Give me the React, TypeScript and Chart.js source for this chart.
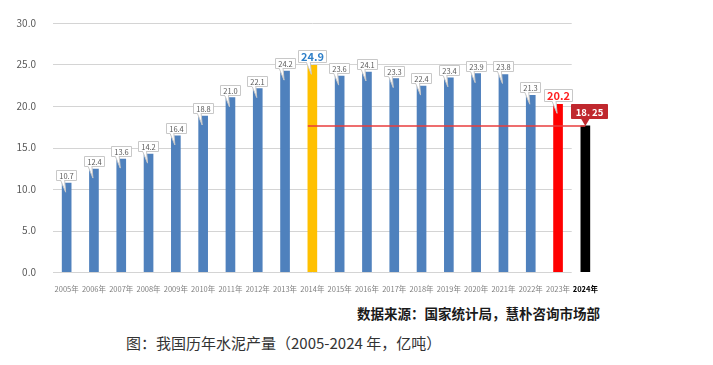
import React, { useEffect, useRef } from "react";
import { Chart, registerables } from "chart.js";

Chart.register(...registerables);

const years = ["2005年","2006年","2007年","2008年","2009年","2010年","2011年","2012年","2013年","2014年","2015年","2016年","2017年","2018年","2019年","2020年","2021年","2022年","2023年","2024年"];
const production = [10.7,12.4,13.6,14.2,16.4,18.8,21.0,22.1,24.2,24.9,23.6,24.1,23.3,22.4,23.4,23.9,23.8,21.3,20.2,17.6];
const labelTexts = ["10.7","12.4","13.6","14.2","16.4","18.8","21.0","22.1","24.2","24.9","23.6","24.1","23.3","22.4","23.4","23.9","23.8","21.3","20.2","18. 25"];
const barColors = ["#4f81bd","#4f81bd","#4f81bd","#4f81bd","#4f81bd","#4f81bd","#4f81bd","#4f81bd","#4f81bd","#ffc000","#4f81bd","#4f81bd","#4f81bd","#4f81bd","#4f81bd","#4f81bd","#4f81bd","#4f81bd","#ff0000","#000000"];
const yTicks = [0, 5, 10, 15, 20, 25, 30];
const sourceText = "数据来源：国家统计局，慧朴咨询市场部";
const titleText = "图：我国历年水泥产量（2005-2024 年，亿吨）";

const FONT = "'Noto Sans CJK SC', 'Noto Sans', sans-serif";

const gridPlugin = {
  id: "customGrid",
  beforeDatasetsDraw(chart: any) {
    const { ctx, chartArea, scales } = chart;
    const x = scales.x;
    const y = scales.y;
    const right = (x.getPixelForValue(18) + x.getPixelForValue(19)) / 2;
    ctx.save();
    ctx.strokeStyle = "#d4d4d4";
    ctx.lineWidth = 1;
    yTicks.forEach((t) => {
      const py = Math.round(y.getPixelForValue(t)) + 0.5;
      ctx.beginPath();
      ctx.moveTo(chartArea.left, py);
      ctx.lineTo(right, py);
      ctx.stroke();
    });
    ctx.restore();
  },
};

const labelPlugin = {
  id: "callouts",
  afterDatasetsDraw(chart: any) {
    const { ctx, scales } = chart;
    const x = scales.x;
    const y = scales.y;
    const meta = chart.getDatasetMeta(0);
    ctx.save();
    const lineY = y.getPixelForValue(production[19]);
    ctx.strokeStyle = "rgba(232,60,60,0.75)";
    ctx.lineWidth = 2;
    ctx.beginPath();
    ctx.moveTo(x.getPixelForValue(9) - 4.5, lineY);
    ctx.lineTo(x.getPixelForValue(19), lineY);
    ctx.stroke();

    meta.data.forEach((bar: any, i: number) => {
      const cx = bar.x;
      const top = bar.y;
      const txt = labelTexts[i];
      let font = `7.5px ${FONT}`;
      let color = "#595959";
      let fill = "#ffffff";
      let stroke = "#c8c8c8";
      let padX = 2.5;
      let h = 10;
      let shift = 0;
      if (i === 9) { font = `bold 11px ${FONT}`; color = "#2e7fc8"; h = 12; padX = 2.5; }
      if (i === 18) { font = `bold 11px ${FONT}`; color = "#ff2020"; h = 12; padX = 2.5; }
      if (i === 19) { font = `bold 9.5px ${FONT}`; color = "#ffffff"; fill = "#c0282e"; stroke = "#c0282e"; h = 14; padX = 4; shift = 4; }
      ctx.font = font;
      const tw = ctx.measureText(txt).width;
      const w = tw + padX * 2;
      const gap = i === 19 ? 8 : 3;
      const by = top - gap - h;
      const bx = cx - w / 2 - 0.5 + shift;
      ctx.fillStyle = fill;
      ctx.strokeStyle = stroke;
      ctx.lineWidth = 1;
      if (i === 19) {
        ctx.beginPath();
        ctx.moveTo(cx - 5, by + h - 0.5);
        ctx.lineTo(cx + 5, by + h - 0.5);
        ctx.lineTo(cx, top);
        ctx.closePath();
        ctx.fill();
      } else {
        ctx.beginPath();
        ctx.moveTo(cx - 6, by + h);
        ctx.lineTo(cx - 1, top + 9);
        ctx.lineTo(cx - 2, by + h);
        ctx.closePath();
        ctx.fill();
        ctx.beginPath();
        ctx.moveTo(cx - 6, by + h);
        ctx.lineTo(cx - 1, top + 9);
        ctx.lineTo(cx - 2, by + h);
        ctx.stroke();
      }
      ctx.beginPath();
      ctx.rect(Math.round(bx) + 0.5, Math.round(by) + 0.5, Math.round(w), Math.round(h));
      ctx.fill();
      ctx.stroke();
      if (i !== 19) {
        ctx.fillStyle = fill;
        ctx.fillRect(cx - 5.5, Math.round(by) + Math.round(h) - 0.5, 3, 1.5);
      }
      ctx.fillStyle = color;
      ctx.textAlign = "center";
      ctx.textBaseline = "middle";
      ctx.fillText(txt, Math.round(bx) + Math.round(w) / 2 + 0.5, Math.round(by) + Math.round(h) / 2 + 1);
    });
    ctx.restore();
  },
};

export default function App() {
  const ref = useRef<HTMLCanvasElement | null>(null);
  useEffect(() => {
    if (!ref.current) return;
    const chart = new Chart(ref.current, {
      type: "bar",
      data: {
        labels: years,
        datasets: [
          {
            data: production,
            backgroundColor: barColors,
            barThickness: 9,
            borderWidth: 0,
          },
        ],
      },
      options: {
        animation: false,
        responsive: false,
        events: [],
        layout: { padding: { top: 14, right: 106, bottom: 4, left: 0 } },
        plugins: { legend: { display: false }, tooltip: { enabled: false } },
        scales: {
          x: {
            grid: { display: false },
            border: { display: false },
            ticks: {
              autoSkip: false,
              maxRotation: 0,
              padding: 5,
              color: (c: any) => (c.index === 19 ? "#000000" : "#7f7f7f"),
              font: (c: any) => ({ family: FONT, size: 7.5, weight: c.index === 19 ? "bold" : "normal" }),
            },
            afterFit: (s: any) => { s.height = 22; },
          },
          y: {
            min: 0,
            max: 30,
            grid: { display: false },
            border: { display: false },
            ticks: {
              stepSize: 5,
              padding: 9,
              color: "#595959",
              font: { family: FONT, size: 10 },
              callback: (v: any) => Number(v).toFixed(1),
            },
            afterFit: (s: any) => { s.width = 45; },
          },
        },
      },
      plugins: [gridPlugin, labelPlugin],
    } as any);
    return () => chart.destroy();
  }, []);

  return (
    <div style={{ position: "relative", width: 697, height: 349, fontFamily: FONT }}>
      <canvas ref={ref} width={697} height={290} style={{ position: "absolute", left: 0, top: 0 }} />
      <div style={{ position: "absolute", right: 697 - 592, top: 296, fontSize: 13.5, fontWeight: "bold", color: "#1a1a1a", whiteSpace: "nowrap", lineHeight: "18px" }}>
        {sourceText}
      </div>
      <div style={{ position: "absolute", left: 118, top: 325, fontSize: 15, color: "#333333", whiteSpace: "nowrap", lineHeight: "20px" }}>
        {titleText}
      </div>
    </div>
  );
}
